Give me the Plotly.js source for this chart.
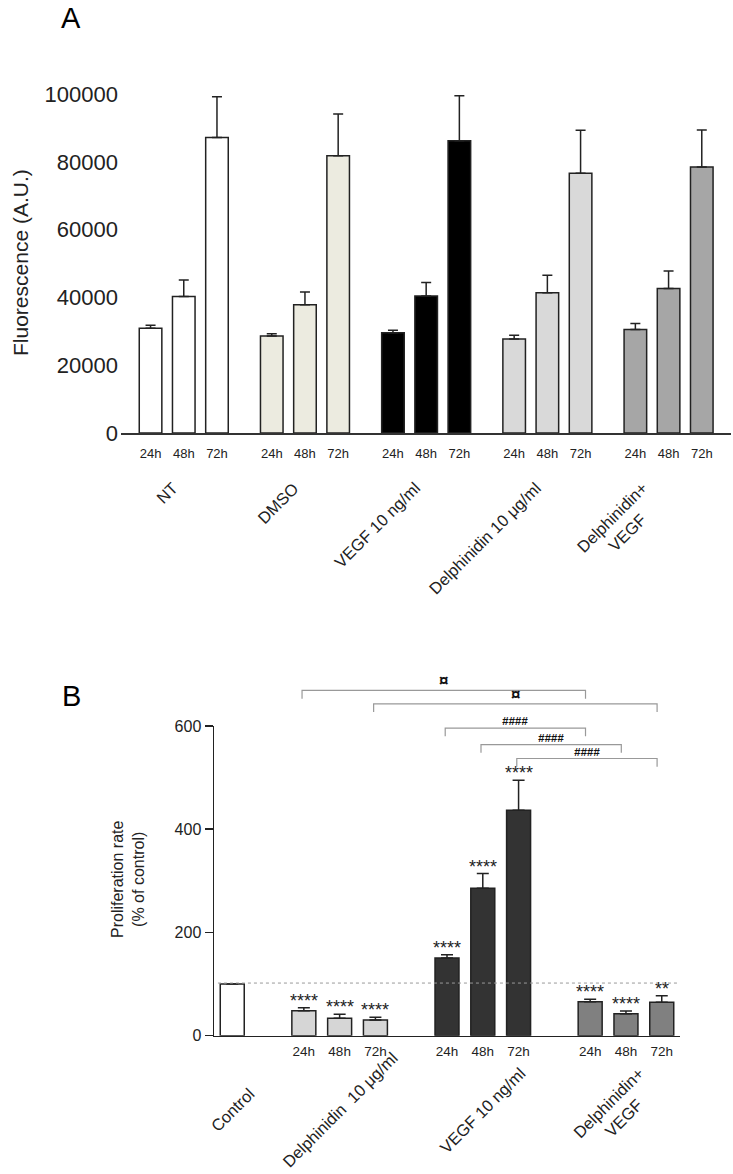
<!DOCTYPE html>
<html><head><meta charset="utf-8">
<script src="https://cdn.plot.ly/plotly-3.0.1.min.js"></script>
<style>html,body{margin:0;padding:0;background:#fff}</style>
</head><body><div id="chart" style="width:733px;height:1174px"></div>
<script>
// ---------- Panel A data ----------
const groupsA = ['NT', 'DMSO', 'VEGF 10 ng/ml', 'Delphinidin 10 μg/ml', 'Delphinidin+<br>VEGF'];
const timeLabels = ['24h', '48h', '72h'];
const fluorMean = [30900, 40300, 87200, 28600, 37800, 81800, 29600, 40400, 86200, 27700, 41400, 76600, 30500, 42600, 78500];
const fluorErr  = [900, 4800, 12000, 700, 3800, 12300, 700, 4000, 13300, 1100, 5100, 12700, 1800, 5200, 10900];
const yTicksA = [0, 20000, 40000, 60000, 80000, 100000];

// ---------- Panel B data ----------
const groupsB = ['Control', 'Delphinidin  10 μg/ml', 'VEGF 10 ng/ml', 'Delphinidin+<br>VEGF'];
const profMean = [100, 48.4, 33.8, 30.4, 150.3, 285.8, 436.7, 65.8, 42.6, 64.6];
const profErr  = [0, 5.8, 7.6, 5.2, 6.5, 28.4, 58.1, 4.6, 5.2, 12.8];
const profStars = ['', '****', '****', '****', '****', '****', '****', '****', '****', '**'];
const profTickText = ['', '24h', '48h', '72h', '24h', '48h', '72h', '24h', '48h', '72h'];
const controlLine = 102;
const yTicksB = [0, 200, 400, 600];
const bracketFrom = [1, 3, 4, 5, 6];   // bar index
const bracketTo   = [7, 9, 7, 8, 9];
const bracketText = ['¤', '¤', '####', '####', '####'];

// ---------- layout geometry ----------
const W = 733, H = 1174;
const FONT = 'Liberation Sans, Arial, sans-serif';
const INK = '#222';
const colorsA = ['#ffffff', '#ecebe0', '#000000', '#d9d9d9', '#a6a6a6'];
const colorsB = ['#ffffff', '#d6d6d6', '#333333', '#808080'];

const xA = [], colA = [], tickA = [];
groupsA.forEach((g, gi) => { for (let i = 0; i < 3; i++) { xA.push(gi * 3.65 + i); colA.push(colorsA[gi]); tickA.push(timeLabels[i]); } });
const xB = [0], colB = [colorsB[0]];
for (let gi = 1; gi < groupsB.length; gi++) for (let i = 0; i < 3; i++) { xB.push(2 + (gi - 1) * 4 + i); colB.push(colorsB[gi]); }

const domXA = [121 / W, 731 / W], domYA = [1 - 433 / H, 1 - 94 / H];
const domXB = [214 / W, 680 / W], domYB = [1 - 1035.7 / H, 1 - 726 / H];
const rXA = [-0.89, 17.48], rXB = [-0.51, 12.51], rYB = [0, 600];
const pxB = v => domXB[0] + (v - rXB[0]) / (rXB[1] - rXB[0]) * (domXB[1] - domXB[0]);
const pyB = v => domYB[0] + (v - rYB[0]) / (rYB[1] - rYB[0]) * (domYB[1] - domYB[0]);

const traceA = {
  type: 'bar', x: xA, y: fluorMean, xaxis: 'x', yaxis: 'y', width: 0.68,
  marker: { color: colA, line: { color: INK, width: 1.5 } },
  error_y: { type: 'data', symmetric: false, array: fluorErr, arrayminus: fluorErr.map(() => 0), color: INK, thickness: 1.5, width: 5 },
  cliponaxis: false, hoverinfo: 'none', showlegend: false
};
const traceB = {
  type: 'bar', x: xB, y: profMean, xaxis: 'x2', yaxis: 'y2', width: 0.67,
  marker: { color: colB, line: { color: INK, width: 1.5 } },
  error_y: { type: 'data', symmetric: false, array: profErr, arrayminus: profErr.map(() => 0), color: INK, thickness: 1.5, width: 6 },
  cliponaxis: false, hoverinfo: 'none', showlegend: false
};

const ann = [];
ann.push({ text: 'A', xref: 'paper', yref: 'paper', x: 71 / W, y: 1 - 18 / H, xanchor: 'center', yanchor: 'middle', showarrow: false, font: { size: 29, color: '#000' } });
ann.push({ text: 'B', xref: 'paper', yref: 'paper', x: 71 / W, y: 1 - 696 / H, xanchor: 'center', yanchor: 'middle', showarrow: false, font: { size: 29, color: '#000' } });
ann.push({ text: 'Fluorescence (A.U.)', xref: 'paper', yref: 'paper', x: 20 / W, y: 1 - 263 / H, textangle: -90, xanchor: 'center', yanchor: 'middle', showarrow: false, font: { size: 21, color: INK } });
ann.push({ text: 'Proliferation rate<br>(% of control)', xref: 'paper', yref: 'paper', x: 128 / W, y: 1 - 880 / H, textangle: -90, xanchor: 'center', yanchor: 'middle', showarrow: false, font: { size: 16, color: INK } });
groupsA.forEach((g, gi) => ann.push({ text: g, xref: 'x', yref: 'paper', x: gi * 3.65 + 1, y: 1 - 476 / H, xanchor: 'right', yanchor: 'top', textangle: -45, showarrow: false, font: { size: 16.5, color: INK } }));
const centersB = [0, 3, 7, 10.7];
groupsB.forEach((g, gi) => ann.push({ text: g, xref: 'x2', yref: 'paper', x: centersB[gi], y: 1 - 1110 / H, xanchor: 'center', yanchor: 'middle', textangle: -45, showarrow: false, font: { size: 16.5, color: INK } }));
profStars.forEach((s, k) => { if (s) ann.push({ text: s, xref: 'x2', yref: 'y2', x: xB[k], y: profMean[k] + profErr[k], xanchor: 'center', yanchor: 'bottom', yshift: -5, showarrow: false, font: { size: 18, color: INK } }); });

const shapes = [];
shapes.push({ type: 'line', xref: 'x2', yref: 'y2', x0: -0.4, x1: 12.5, y0: controlLine, y1: controlLine, line: { color: '#999', width: 1, dash: 'dot' } });
const levels = [669, 643, 596, 564, 537];
bracketFrom.forEach((f, i) => {
  const x0 = pxB(xB[f] - 0.05), x1 = pxB(xB[bracketTo[i]] - 0.13);
  const yl = pyB(levels[i]), yd = pyB(levels[i] - 16);
  shapes.push({ type: 'path', xref: 'paper', yref: 'paper', path: `M ${x0} ${yd} L ${x0} ${yl} L ${x1} ${yl} L ${x1} ${yd}`, line: { color: '#999', width: 1.2 } });
  const isHash = bracketText[i].startsWith('#');
  ann.push({ text: '<b>' + (isHash ? '<i>' + bracketText[i] + '</i>' : bracketText[i]) + '</b>', xref: 'paper', yref: 'paper', x: (x0 + x1) / 2, y: yl, xanchor: 'center', yanchor: 'bottom', yshift: isHash ? -1 : -2, showarrow: false, font: { size: isHash ? 11.5 : 17, color: '#111' } });
});

const layout = {
  width: W, height: H, margin: { l: 0, r: 0, t: 0, b: 0 },
  paper_bgcolor: '#fff', plot_bgcolor: 'rgba(0,0,0,0)',
  font: { family: FONT, color: INK },
  xaxis: { domain: domXA, range: rXA, anchor: 'y', showline: true, linewidth: 2, linecolor: '#333', ticks: '', tickvals: xA, ticktext: tickA, tickfont: { size: 13 }, ticklabelstandoff: 7, showgrid: false, zeroline: false, fixedrange: true },
  yaxis: { domain: domYA, range: [0, 100000], anchor: 'x', showline: false, ticks: '', tickvals: yTicksA, tickformat: 'd', tickfont: { size: 22 }, ticklabelstandoff: 2, showgrid: false, zeroline: false, fixedrange: true },
  xaxis2: { domain: domXB, range: rXB, anchor: 'y2', showline: true, linewidth: 1.5, linecolor: INK, ticks: '', tickvals: xB, ticktext: profTickText, tickfont: { size: 13.5 }, ticklabelstandoff: 3, showgrid: false, zeroline: false, fixedrange: true },
  yaxis2: { domain: domYB, range: rYB, anchor: 'x2', showline: true, linewidth: 1.5, linecolor: INK, ticks: 'outside', ticklen: 8, tickwidth: 1.5, tickcolor: INK, tickvals: yTicksB, tickfont: { size: 16 }, showgrid: false, zeroline: false, fixedrange: true },
  annotations: ann, shapes: shapes, bargap: 0
};
Plotly.newPlot('chart', [traceA, traceB], layout, { staticPlot: true, displayModeBar: false });
</script></body></html>
